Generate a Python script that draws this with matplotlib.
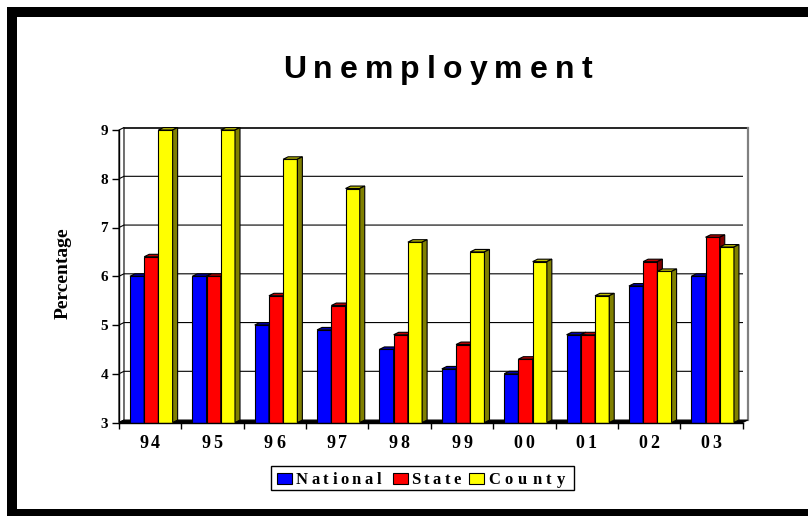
import matplotlib
matplotlib.use("Agg")
import matplotlib.pyplot as plt
from matplotlib.patches import Polygon, Rectangle

# data
years = ["94", "95", "96", "97", "98", "99", "00", "01", "02", "03"]
national = [6.0, 6.0, 5.0, 4.9, 4.5, 4.1, 4.0, 4.8, 5.8, 6.0]
state = [6.4, 6.0, 5.6, 5.4, 4.8, 4.6, 4.3, 4.8, 6.3, 6.8]
county = [9.0, 9.0, 8.4, 7.8, 6.7, 6.5, 6.3, 5.6, 6.1, 6.6]
series_names = ["National", "State", "County"]
yticks = [3, 4, 5, 6, 7, 8, 9]

W, H = 808, 516
fig = plt.figure(figsize=(W / 100, H / 100), dpi=100)
renderer = fig.canvas.get_renderer()

SERIF = ["Liberation Serif", "DejaVu Serif"]
SANS = ["Liberation Sans", "DejaVu Sans"]

def fx(x):
    return x / W

def fy(y):
    return 1 - y / H

def spread_text(x0, x1, y, s, **kw):
    # lay out characters so the ink fills x0..x1 (pixel coords from top-left)
    texts = [fig.text(0, 0, ch, **kw) for ch in s]
    widths = [t.get_window_extent(renderer).width for t in texts]
    gap = (x1 - x0 - sum(widths)) / max(len(s) - 1, 1)
    x = x0
    for t, w in zip(texts, widths):
        t.set_position((fx(x), fy(y)))
        x += w + gap

# black frame (right side runs off the picture)
for (x, y, w, h) in [(7, 7, W, 10), (7, 7, 10, H), (7, 509, W, 10)]:
    fig.patches.append(Rectangle((fx(x), fy(y + h)), w / W, h / H, transform=fig.transFigure,
                                 facecolor="black", edgecolor="none"))

# axes: front plane, value 3 at y=422.5px, value 9 at y=130px
left, right, top, bottom = 119, 742.7, 130, 422.5
ax = fig.add_axes([fx(left), fy(bottom), (right - left) / W, (bottom - top) / H])
ax.set_xlim(-0.5, len(years) - 0.5)
ax.set_ylim(3, 9)
ax.patch.set_visible(False)

dx, dy = 0.08, 0.05
x_lo, x_hi = -0.5, len(years) - 0.5

# back wall, left wall, floor
ax.add_patch(Rectangle((x_lo + dx, 3 + dy), x_hi - x_lo, 6, facecolor="white", edgecolor="none", zorder=0))
ax.plot([x_lo + dx, x_hi + dx], [9 + dy, 9 + dy], color="black", lw=1.2, zorder=1, clip_on=False)
ax.plot([x_hi + dx, x_hi + dx], [3 + dy, 9 + dy], color="#808080", lw=1.6, zorder=1, clip_on=False)
ax.add_patch(Polygon([(x_lo, 3), (x_lo + dx, 3 + dy), (x_lo + dx, 9 + dy), (x_lo, 9)],
                     facecolor="white", edgecolor="black", lw=0.8, zorder=1, clip_on=False))
for v in yticks[1:-1]:
    ax.plot([x_lo, x_lo + dx, x_hi + dx], [v, v + dy, v + dy], color="black", lw=0.8, zorder=1)
ax.add_patch(Polygon([(x_lo, 3), (x_lo + dx, 3 + dy), (x_hi + dx, 3 + dy), (x_hi, 3)],
                     facecolor="black", edgecolor="black", lw=0.8, zorder=1, clip_on=False))

# 3-D looking bars
front = ["#0000FF", "#FF0000", "#FFFF00"]
topc = ["#0000B0", "#C00000", "#C0C000"]
side = ["#000080", "#800000", "#808000"]
bw = 0.228
z = 2
for i in range(len(years)):
    for j, vals in enumerate([national, state, county]):
        v = vals[i]
        x = i - 0.324 + j * bw
        ax.bar(x, v - 3, bottom=3, width=bw, align="edge", color=front[j],
               edgecolor="black", lw=0.8, zorder=z)
        ax.add_patch(Polygon([(x, v), (x + dx, v + dy), (x + bw + dx, v + dy), (x + bw, v)],
                             facecolor=topc[j], edgecolor="black", lw=0.8, zorder=z, clip_on=False))
        ax.add_patch(Polygon([(x + bw, 3), (x + bw + dx, 3 + dy), (x + bw + dx, v + dy), (x + bw, v)],
                             facecolor=side[j], edgecolor="black", lw=0.8, zorder=z, clip_on=False))
        z += 1

for s in ["top", "right"]:
    ax.spines[s].set_visible(False)
for s in ["left", "bottom"]:
    ax.spines[s].set_color("black")
    ax.spines[s].set_linewidth(1.0)
    ax.spines[s].set_zorder(100)

ax.set_yticks(yticks)
ax.set_yticklabels([str(t) for t in yticks], fontfamily=SERIF, fontweight="bold", fontsize=11)
ax.tick_params(axis="y", direction="out", length=5, width=1, pad=3)

# x labels: tick positions from the axis, letters spread a little like the original
ax.set_xticks(range(len(years)))
ax.set_xticklabels([])
ax.set_xticks([k - 0.5 for k in range(len(years) + 1)], minor=True)
ax.tick_params(axis="x", which="major", length=0)
ax.tick_params(axis="x", which="minor", direction="out", length=4, width=1)

fig.text(fx(63), fy(272.7), "Percentage", rotation=90, ha="center", va="center",
         fontfamily=SERIF, fontweight="bold", fontsize=14)

# title with wide letter spacing
spread_text(283, 592, 77.7, "Unemployment", fontfamily=SANS, fontweight="bold",
            fontsize=23, va="baseline")

for i, lab in enumerate(years):
    cx = ax.transData.transform((i, 3))[0]
    spread_text(cx - 11, cx + 10, 448.5, lab, fontfamily=SERIF, fontweight="bold",
                fontsize=13, va="baseline")

# legend drawn by hand to keep the spaced lettering
fig.patches.append(Rectangle((fx(271), fy(490)), (574 - 271) / W, 24 / H, transform=fig.transFigure,
                             facecolor="white", edgecolor="black", lw=1.0))
swatch_x = [277, 393, 469]
text_span = [(296, 381), (411, 461), (488, 565)]
for j, name in enumerate(series_names):
    fig.patches.append(Rectangle((fx(swatch_x[j]), fy(484)), 15 / W, 11 / H,
                                 transform=fig.transFigure, facecolor=front[j],
                                 edgecolor="black", lw=0.8))
    spread_text(text_span[j][0], text_span[j][1], 483.5, name, fontfamily=SERIF,
                fontweight="bold", fontsize=12, va="baseline")

fig.savefig("out.png", dpi=100)
